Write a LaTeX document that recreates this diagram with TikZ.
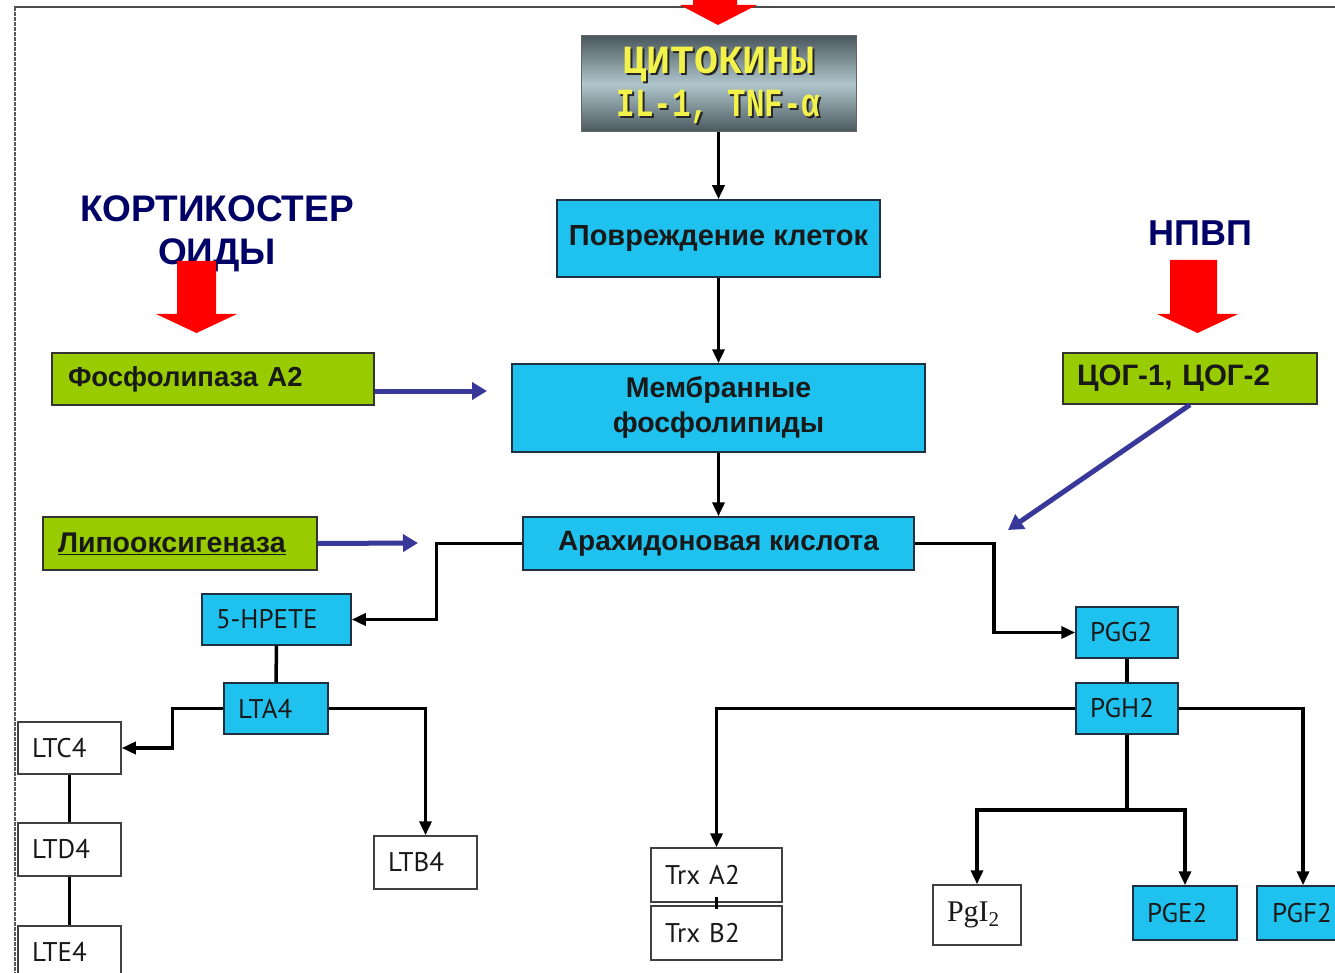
\documentclass[tikz,border=0pt]{standalone}
\usepackage{fontspec}
\setmainfont{Liberation Sans}
\newfontfamily\arialf{Liberation Sans}
\newfontfamily\ptf{PT Sans}
\newfontfamily\monof{Liberation Mono}
\newfontfamily\serf{Liberation Serif}
\usetikzlibrary{arrows.meta}
\definecolor{cyanfill}{HTML}{1FC2EE}
\definecolor{greenfill}{HTML}{99CC00}
\definecolor{navytext}{HTML}{000066}
\definecolor{bluearr}{HTML}{38389A}
\definecolor{redarr}{HTML}{FF0000}
\definecolor{cytoyel}{HTML}{F2F24A}
\definecolor{edgecol}{HTML}{203040}
\definecolor{cytodark}{HTML}{4A585E}
\definecolor{cytolight}{HTML}{AFC6CC}
\begin{document}
\begin{tikzpicture}[x=1pt,y=-1pt,
  base/.style={draw=edgecol, line width=1.5pt, inner sep=0pt, anchor=center},
  cyanbox/.style={base, fill=cyanfill},
  greenbox/.style={base, fill=greenfill, draw=black!80, align=left},
  whitebox/.style={base, fill=white, draw=black!75},
  titlefont/.style={font=\arialf\fontsize{29}{34}\selectfont\bfseries, text=black!90},
  smallfont/.style={font=\ptf\fontsize{27}{30}\selectfont, text=black!90, align=left, inner xsep=14pt},
  conn/.style={line width=3.5pt, draw=black},
  arr/.style={conn, -{Triangle[length=14pt,width=12pt]}},
  bluearrow/.style={line width=5pt, draw=bluearr, -{Triangle[length=15pt,width=17pt]}},
  redblock/.style={fill=redarr, draw=none},
  warn/.style={font=\arialf\bfseries\fontsize{37}{43}\selectfont, text=navytext, align=center},
]
\useasboundingbox (0,0) rectangle (1335,973);
\fill[white] (0,0) rectangle (1335,973);

% frame
\draw[line width=2pt, black!70] (14,7) -- (1340,7);
\draw[line width=2pt, black!65, dash pattern=on 4pt off 1pt] (15,7) -- (15,990);

% top red arrow
\fill[redblock] (693,-10) -- (737,-10) -- (737,5) -- (757,5) -- (718,25) -- (680,5) -- (693,5) -- cycle;

% cytokines
\node[base, draw=black!60, line width=1pt, minimum width=275pt, minimum height=96pt,
      top color=cytodark, bottom color=cytodark, middle color=cytolight] (cyto) at (718.5,84) {};
\node[font=\monof\bfseries\fontsize{40}{43}\selectfont, text=black!85, align=center] (cytoshadow) at (720.5,87)
  {ЦИТОКИНЫ\\\scalebox{0.77}[1]{IL-1, TNF-α}};
\node[font=\monof\bfseries\fontsize{40}{43}\selectfont, text=cytoyel, align=center] (cytotext) at (718.5,85)
  {ЦИТОКИНЫ\\\scalebox{0.77}[1]{IL-1, TNF-α}};

% main chain
\node[cyanbox, titlefont, minimum width=323pt, minimum height=77pt] (pov) at (718.5,238.5) {Повреждение клеток};
\node[cyanbox, titlefont, font=\arialf\fontsize{28.5}{35}\selectfont\bfseries, align=center, minimum width=413pt, minimum height=88pt] (mem) at (718.5,408) {Мембранные\\фосфолипиды};
\node[cyanbox, titlefont, font=\arialf\fontsize{28}{34}\selectfont\bfseries, minimum width=391pt, minimum height=53pt] (arach) at (718.5,543.5) {Арахидоновая кислота};

% enzymes
\node[greenbox, titlefont, font=\arialf\fontsize{27.5}{34}\selectfont\bfseries, inner xsep=16pt, text width=290pt, minimum height=52pt] (fos) at (213,379) {Фосфолипаза A2};
\node[greenbox, titlefont, font=\arialf\fontsize{29.5}{34}\selectfont\bfseries, inner xsep=14pt, text width=226pt, minimum height=51pt] (cog) at (1190,378.5) {ЦОГ-1, ЦОГ-2};
\node[greenbox, titlefont, font=\arialf\fontsize{28.5}{34}\selectfont\bfseries, inner xsep=15pt, text width=244pt, minimum height=53pt] (lipo) at (180,543.5) {\underline{Липооксигеназа}};

% warning labels
\node[warn] (kort) at (217,234) {КОРТИКОСТЕР\\ОИДЫ};
\node[warn, font=\arialf\bfseries\fontsize{36}{43}\selectfont] (npvp) at (1200,233) {НПВП};
\fill[redblock] (177,261) -- (216,261) -- (216,314) -- (237,314) -- (196.5,333) -- (156,314) -- (177,314) -- cycle;
\fill[redblock] (1170,260) -- (1217,260) -- (1217,314) -- (1238,314) -- (1197.5,333) -- (1157,314) -- (1170,314) -- cycle;

% leukotriene branch
\node[cyanbox, smallfont, text width=121pt, minimum height=51pt] (hpete) at (276.5,619.5) {5-HPETE};
\node[cyanbox, smallfont, text width=76pt, minimum height=51pt] (lta4) at (276,708.5) {LTA4};
\node[whitebox, smallfont, text width=75pt, minimum height=52pt] (ltc4) at (69.5,748) {LTC4};
\node[whitebox, smallfont, text width=75pt, minimum height=53pt] (ltd4) at (69.5,849.5) {LTD4};
\node[whitebox, smallfont, text width=75pt, minimum height=52pt] (lte4) at (69.5,952) {LTE4};
\node[whitebox, smallfont, text width=75pt, minimum height=53pt] (ltb4) at (425.5,862.5) {LTB4};

% prostaglandin branch
\node[cyanbox, smallfont, text width=74pt, minimum height=51pt] (pgg2) at (1127,632.5) {PGG2};
\node[cyanbox, smallfont, text width=74pt, minimum height=51pt] (pgh2) at (1127,708.5) {PGH2};
\node[whitebox, smallfont, text width=103pt, minimum height=54pt] (trxa) at (716.5,875) {Trx A2};
\node[whitebox, smallfont, text width=103pt, minimum height=54pt] (trxb) at (716.5,933) {Trx B2};
\node[whitebox, smallfont, font=\serf\fontsize{30}{32}\selectfont, text width=60pt, minimum height=60pt] (pgi2) at (977,915) {PgI\textsubscript{2}};
\node[cyanbox, smallfont, text width=76pt, minimum height=54pt] (pge2) at (1185,913) {PGE2};
\node[cyanbox, smallfont, inner xsep=15pt, text width=62pt, minimum height=54pt] (pgf2) at (1303,913) {PGF2};

% coordinates for free ends
\coordinate (fosend) at (487,391);
\coordinate (lipoend) at (418,543);
\coordinate (cogend) at (1008,530);
\coordinate (split) at (1127,810);

% connectors
\draw[arr] (cyto.south) -- (pov.north);
\draw[arr] (pov.south) -- (mem.north);
\draw[arr] (mem.south) -- (arach.north);
\draw[bluearrow] (fos.east |- fosend) -- (fosend);
\draw[bluearrow] (lipo.east) -- (lipoend);
\draw[bluearrow] (cog.south) -- (cogend);

\draw[arr] (arach.west) -- ++(-86,0) |- (hpete.east);
\draw[arr] (arach.east) -- ++(79,0) |- (pgg2.west);

\draw[conn] (hpete.south) -- (lta4.north);
\draw[arr] (lta4.west) -- ++(-51,0) |- (ltc4.east);
\draw[arr] (lta4.east) -| (ltb4.north);
\draw[conn] (ltc4.south) -- (ltd4.north);
\draw[conn] (ltd4.south) -- (lte4.north);

\draw[conn] (pgg2.south) -- (pgh2.north);
\draw[arr] (pgh2.west) -| (trxa.north);
\draw[arr] (pgh2.east) -| (pgf2.north);
\draw[conn] (pgh2.south) -- (split);
\draw[arr] (split) -| (pgi2.north);
\draw[arr] (split) -| (pge2.north);
\draw[line width=2.5pt] ([yshift=6pt]trxa.south) -- ([yshift=-4pt]trxb.north);
\end{tikzpicture}
\end{document}
